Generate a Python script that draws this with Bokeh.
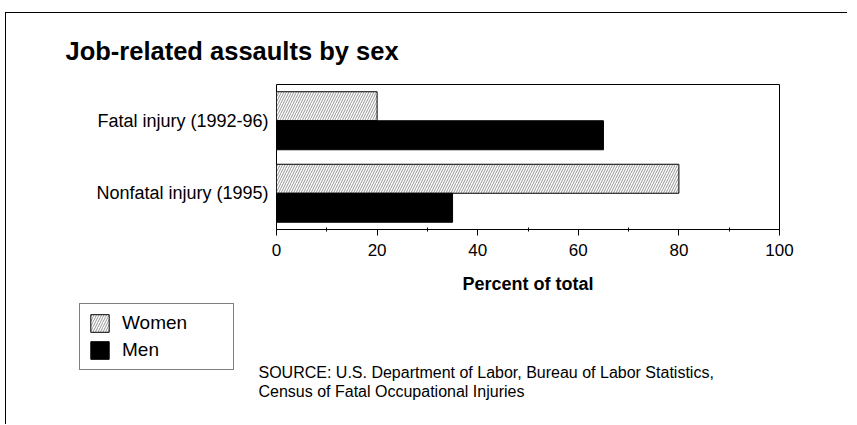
from bokeh.plotting import figure
from bokeh.layouts import column
from bokeh.models import (Range1d, FactorRange, FixedTicker, Legend,
                          LegendItem, ColumnDataSource, Title, Label)
from bokeh.transform import dodge
from bokeh.embed import file_html
from bokeh.resources import INLINE

# ---- data ----
categories = ["Nonfatal injury (1995)", "Fatal injury (1992-96)"]
women = [80, 20]
men = [35, 65]
x_ticks = [0, 20, 40, 60, 80, 100]
x_minor_ticks = [10, 30, 50, 70, 90]
series_names = ["Women", "Men"]
title_text = "Job-related assaults by sex"
x_label = "Percent of total"
source_lines = ["SOURCE: U.S. Department of Labor, Bureau of Labor Statistics,",
                "Census of Fatal Occupational Injuries"]

FONT = "Liberation Sans"
W = 841
H1 = 289
H2 = 122

women_style = dict(fill_color="white", line_color="black", line_width=1,
                   hatch_pattern="/", hatch_color="#666666", hatch_scale=5,
                   hatch_weight=0.7)
men_style = dict(fill_color="black", line_color="black", line_width=1)

src = ColumnDataSource(dict(cat=categories, women=women, men=men))

# ---------------- main chart ----------------
p = figure(width=W, height=H1,
           y_range=FactorRange(factors=categories, range_padding=0),
           x_range=Range1d(0, 100),
           output_backend="svg", toolbar_location=None,
           min_border_left=270, min_border_right=68,
           min_border_top=71, min_border_bottom=73)
p.frame_align = False

p.background_fill_color = "white"
p.border_fill_color = "white"
p.outline_line_color = "black"
p.outline_line_width = 1
p.xgrid.visible = False
p.ygrid.visible = False

p.hbar(y=dodge("cat", 0.2, range=p.y_range), height=0.4, left=0, right="women",
       source=src, **women_style)
p.hbar(y=dodge("cat", -0.2, range=p.y_range), height=0.4, left=0, right="men",
       source=src, **men_style)

xa = p.xaxis[0]
xa.ticker = FixedTicker(ticks=x_ticks, minor_ticks=x_minor_ticks)
xa.axis_line_color = "black"
xa.major_tick_out = 6
xa.major_tick_in = 0
xa.minor_tick_out = 2
xa.minor_tick_in = 2
xa.major_tick_line_color = "black"
xa.minor_tick_line_color = "black"
xa.major_label_standoff = 8
xa.major_label_text_font = FONT
xa.major_label_text_font_size = "17px"
xa.major_label_text_color = "black"
xa.axis_label = x_label
xa.axis_label_text_font = FONT
xa.axis_label_text_font_size = "18px"
xa.axis_label_text_font_style = "bold"
xa.axis_label_text_color = "black"
xa.axis_label_standoff = 15

ya = p.yaxis[0]
ya.axis_line_color = None
ya.major_tick_line_color = None
ya.minor_tick_line_color = None
ya.major_tick_out = 0
ya.major_tick_in = 0
ya.major_label_standoff = 8
ya.major_label_text_font = FONT
ya.major_label_text_font_size = "18px"
ya.major_label_text_color = "black"

p.title = Title(text=title_text, align="left", offset=-211, standoff=39,
                text_font=FONT, text_font_size="25.5px", text_font_style="bold",
                text_color="black")

# ---------------- legend + source strip ----------------
q = figure(width=W, height=H2, x_range=Range1d(0, 1), y_range=Range1d(0, 1),
           output_backend="svg", toolbar_location=None,
           x_axis_type=None, y_axis_type=None,
           min_border_left=0, min_border_right=0, min_border_top=0, min_border_bottom=0)
q.frame_align = False
q.outline_line_color = None
q.xgrid.visible = False
q.ygrid.visible = False
q.background_fill_color = "white"
q.border_fill_color = "white"

lw = q.hbar(y=[0.5], height=0.1, left=[0], right=[0], visible=False, **women_style)
lm = q.hbar(y=[0.5], height=0.1, left=[0], right=[0], visible=False, **men_style)

legend = Legend(items=[LegendItem(label=series_names[0], renderers=[lw]),
                       LegendItem(label=series_names[1], renderers=[lm])],
                location=(73, H2 - 68), margin=0, padding=8, spacing=5,
                glyph_width=23, glyph_height=22, label_height=22, label_width=103,
                label_standoff=11, label_text_font=FONT, label_text_font_size="19px",
                label_text_color="black", border_line_color="black", border_line_width=1,
                background_fill_color="white", background_fill_alpha=1,
                inactive_fill_alpha=0)
q.add_layout(legend, "center")

for i, line in enumerate(source_lines):
    q.add_layout(Label(x=252, y=H2 - 70 - 19 * i, x_units="screen", y_units="screen",
                       text=line, text_font=FONT, text_font_size="16px",
                       text_baseline="middle", text_color="black"))

layout = column(p, q, spacing=0)
layout.styles = {"border-top": "1px solid black", "border-left": "1px solid black",
                 "margin-top": "12px", "margin-left": "5px"}

open("out.html", "w").write(file_html(layout, INLINE))
